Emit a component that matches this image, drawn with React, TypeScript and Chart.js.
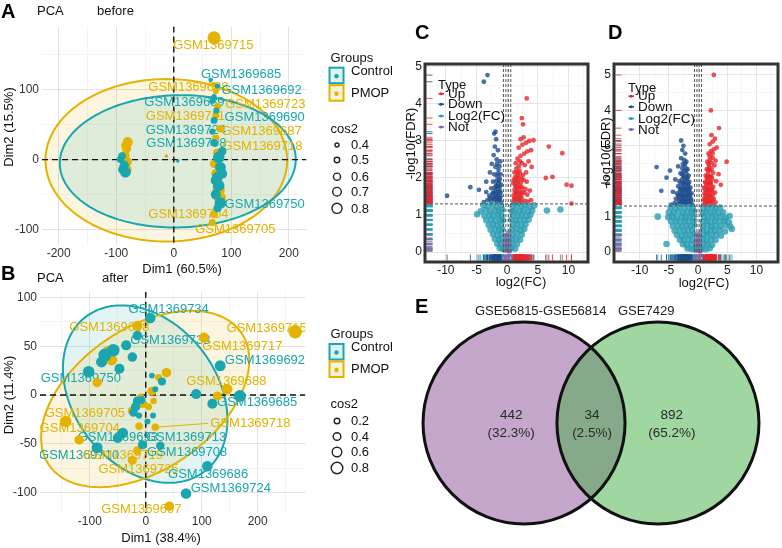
import React, { useEffect, useRef } from "react";
import { Chart, registerables } from "chart.js";

Chart.register(...registerables);

const FONT = "'Liberation Sans', Arial, Helvetica, sans-serif";
const TEAL = "#19A6AF";
const GOLD = "#E3B300";
const GROUP_COLORS = [TEAL, GOLD];
const groups = ["Control", "PMOP"];

const UP = "#E8262B";
const DOWN = "#1E4E8F";
const LOGFC = "#2B9DB3";
const NOT = "#8E5CAA";
const typeNames = ["Up", "Down", "Log2(FC)", "Not"];
const typeColors = [UP, DOWN, LOGFC, NOT];

// ---------------- Panel A : PCA before (x, y, cos2) ----------------
const aControl: number[][] = [
  [-90, 5, 0.55], [-88, -14, 0.7], [-93, 0, 0.5], [-86, -8, 0.65], [-84, -18, 0.75],
  [7, -2, 0.03],
  [64, 114, 0.35], [76, 105, 0.4], [70, 90, 0.4], [67, 84, 0.45], [74, 70, 0.45], [70, 56, 0.5],
  [67, 40, 0.45], [70, 24, 0.55], [84, 12, 0.6], [78, 3, 0.8], [81, -11, 0.75], [84, -20, 0.7],
  [76, -25, 0.75], [72, -30, 0.65], [78, -37, 0.8], [73, -50, 0.7], [81, -62, 0.8], [76, -69, 0.6],
];
const aPmop: number[][] = [
  [-84, 20, 0.6], [-80, 25, 0.7], [-82, 16, 0.65], [-85, 6, 0.65], [-81, -3, 0.65], [-83, -10, 0.6], [-80, -14, 0.55],
  [-13, 5, 0.05],
  [70, 174, 0.9],
  [70, 107, 0.4], [73, 98, 0.45], [76, 76, 0.5], [73, 63, 0.5], [81, 44, 0.55], [73, 31, 0.5], [75, 10, 0.55],
  [70, -6, 0.6], [73, -20, 0.65], [78, -43, 0.85], [80, -55, 0.85], [70, -78, 0.55], [67, -90, 0.5],
];
// [text, group, x, y]
const aLabels: [string, number, number, number][] = [
  ["GSM1369715", 1, 68.6, 162.5], ["GSM1369685", 0, 117, 121], ["GSM1369688", 1, 25.4, 103],
  ["GSM1369692", 0, 152.5, 98.6], ["GSM1369689", 0, 18.6, 82], ["GSM1369723", 1, 159, 79],
  ["GSM1369711", 1, 20.3, 61], ["GSM1369690", 0, 158, 60], ["GSM1369724", 0, 21, 41.7],
  ["GSM1369687", 1, 152.5, 40], ["GSM1369708", 0, 22, 23.6], ["GSM1369718", 1, 154, 19.4],
  ["GSM1369750", 0, 158, -64], ["GSM1369704", 1, 25.4, -78], ["GSM1369705", 1, 107, -100],
];
// group, cx, cy, sx, sy, correlation
const aEllipses: number[][] = [
  [1, -13, -1, 210, 116, 0],
  [0, 7, -2.5, 205, 94.5, 0.03],
];
const aXTicks = [-200, -150, -100, -50, 0, 50, 100, 150, 200];
const aXLabels = [-200, -100, 0, 100, 200];
const aYTicks = [-100, -50, 0, 50, 100, 150];
const aYLabels = [-100, 0, 100];
const aCos2Legend = [0.4, 0.5, 0.6, 0.7, 0.8];

// ---------------- Panel B : PCA after ----------------
const bControl: number[][] = [
  [8, 79, 0.55], [-15, 61, 0.45], [-35, 51, 0.5], [-58, 46, 0.75], [-73, 41, 0.8], [-79, 34, 0.6],
  [-24, 39, 0.45], [-47, 27, 0.5], [-102, 24, 0.65], [133, 30, 0.6], [90, 1, 0.5], [168, -1, 0.7],
  [119, -9, 0.5], [-15, -6, 0.4], [-18, -12, 0.45], [-12, -21, 0.12], [13, -21, 0.1], [3, -27, 0.1],
  [11, 20, 0.08], [29, 14, 0.3], [17, 6, 0.1], [-41, -39, 0.55], [-50, -44, 0.5], [-87, -54, 0.6],
  [-6, -51, 0.4], [26, -52, 0.35], [110, -73, 0.55], [72, -101, 0.55], [-8, -5, 0.3], [-22, -18, 0.35],
];
const bPmop: number[][] = [
  [-15, 71, 0.5], [104, 59, 0.5], [267, 65, 0.85], [-67, 44, 0.75], [-61, 36, 0.6], [-87, 13, 0.45],
  [37, 23, 0.45], [23, 18, 0.2], [11, 4, 0.4], [14, -6, 0.15], [-6, -9, 0.35], [-9, -2, 0.2],
  [145, 6, 0.6], [128, -1, 0.4], [-143, -27, 0.65], [-119, -46, 0.45], [-12, -32, 0.25], [17, -33, 0.25],
  [-15, -57, 0.35], [-24, -67, 0.4], [42, -114, 0.45], [-25, -16, 0.3], [5, -12, 0.2],
];
const bLabels: [string, number, number, number][] = [
  ["GSM1369734", 0, 41, 88], ["GSM1369698", 1, -65, 69], ["GSM1369715", 1, 216, 68],
  ["GSM1369738", 0, 44, 56], ["GSM1369717", 1, 172.5, 50], ["GSM1369692", 0, 213, 36],
  ["GSM1369750", 0, -116, 17], ["GSM1369688", 1, 144, 14], ["GSM1369685", 0, 199, -8],
  ["GSM1369705", 1, -109, -19], ["GSM1369718", 1, 187, -29], ["GSM1369704", 1, -118, -34],
  ["GSM1369693", 0, -50, -43], ["GSM1369713", 0, 72, -43], ["GSM1369710", 0, -119, -62],
  ["GSM1369719", 1, -41, -62], ["GSM1369708", 0, 74, -59], ["GSM1369725", 1, -13, -76],
  ["GSM1369686", 0, 111.5, -81], ["GSM1369724", 0, 152, -96], ["GSM1369697", 1, -8, -117],
];
// label index -> point it is tied to by a segment
const bSegments: [number, number, number][] = [[10, 17, -33]];
const bEllipses: number[][] = [
  [0, -1, 1, 147, 91, -0.29],
  [1, -1, -4, 186, 90.5, 0.44],
];
const bXTicks = [-150, -100, -50, 0, 50, 100, 150, 200, 250];
const bXLabels = [-100, 0, 100, 200];
const bYTicks = [-100, -75, -50, -25, 0, 25, 50, 75, 100];
const bYLabels = [-100, -50, 0, 50, 100];
const bCos2Legend = [0.2, 0.4, 0.6, 0.8];

const rA = (c: number) => Math.max(1.8, 7.75 * c - 0.4);
const rB = (c: number) => 2.5 + 5 * c;

// ---------------- Panel C : volcano GSE56815-GSE56814 ----------------
const cUp: number[][] = [
  [1.0, 1.35], [1.3, 1.42], [1.7, 1.36], [2.1, 1.4], [2.5, 1.34], [2.9, 1.38], [3.4, 1.36], [3.9, 1.4],
  [1.15, 1.44], [1.55, 1.46], [1.95, 1.44], [2.35, 1.46], [1.3, 1.31], [1.9, 1.32],
  [1.1, 1.52], [1.5, 1.56], [1.9, 1.5], [2.3, 1.54], [2.8, 1.6], [3.3, 1.55],
  [1.25, 1.6], [1.65, 1.62], [2.05, 1.58], [2.45, 1.62],
  [1.2, 1.68], [1.6, 1.72], [2.0, 1.66], [2.5, 1.74], [3.0, 1.7], [3.7, 1.66],
  [1.35, 1.78], [1.75, 1.78], [2.15, 1.76],
  [1.0, 1.86], [1.4, 1.84], [1.8, 1.9], [2.2, 1.86], [2.7, 1.94], [3.2, 1.9],
  [1.1, 1.95], [1.5, 1.94], [1.9, 2.0], [2.35, 1.98],
  [1.3, 2.02], [1.7, 2.06], [2.1, 2.12], [2.6, 2.08], [3.1, 2.15], [4.0, 2.3],
  [1.2, 2.15], [1.65, 2.14], [2.0, 2.2],
  [1.5, 2.25], [1.9, 2.32], [2.4, 2.4], [2.9, 2.35], [3.5, 2.45], [1.4, 2.4], [2.1, 2.45],
  [1.7, 2.52], [2.2, 2.6], [2.8, 2.66], [3.3, 2.72], [3.9, 2.75],
  [1.9, 2.82], [2.5, 2.9], [3.1, 2.95], [3.6, 3.0], [4.3, 3.02],
  [2.2, 3.05], [2.7, 3.1], [2.6, 3.45], [2.4, 3.62], [3.2, 4.15],
  [6.8, 2.85], [9.0, 2.67], [6.3, 2.0], [7.4, 2.03], [9.7, 1.82], [10.5, 1.79], [10.5, 1.31],
];
const cDown: number[][] = [
  [-1.0, 1.34], [-1.3, 1.4], [-1.7, 1.36], [-2.1, 1.42], [-2.6, 1.36], [-3.2, 1.4], [-3.8, 1.35],
  [-1.15, 1.44], [-1.55, 1.46], [-1.95, 1.44], [-2.35, 1.46], [-2.8, 1.45],
  [-1.1, 1.5], [-1.5, 1.55], [-1.9, 1.5], [-2.4, 1.57], [-2.9, 1.52],
  [-1.05, 1.6], [-1.4, 1.62], [-1.8, 1.58], [-2.25, 1.6], [-3.4, 1.62],
  [-1.2, 1.66], [-1.6, 1.7], [-2.0, 1.65], [-2.6, 1.72],
  [-1.2, 1.76], [-1.6, 1.78], [-2.0, 1.74],
  [-1.0, 1.82], [-1.4, 1.86], [-1.8, 1.8], [-2.3, 1.9],
  [-1.3, 1.92], [-1.75, 1.92],
  [-1.2, 1.98], [-1.6, 2.04], [-2.1, 2.1], [-2.8, 2.15],
  [-1.05, 2.1], [-1.5, 2.12],
  [-1.4, 2.22], [-1.9, 2.3], [-2.5, 2.38], [-1.25, 2.32], [-1.65, 2.38],
  [-1.1, 2.45], [-1.7, 2.5], [-2.2, 2.62],
  [-1.5, 2.75], [-2.0, 2.85], [-1.8, 3.05], [-2.1, 3.2], [-1.9, 3.25],
  [-3.2, 4.78], [-3.8, 4.6], [-9.8, 1.52], [-6.0, 1.75], [-4.6, 1.68], [-3.4, 1.9],
];
const cLog: number[][] = [
  [-3.9, 1.27], [-3.1, 1.24], [-2.4, 1.28], [-1.7, 1.22], [-1.0, 1.26], [0.9, 1.24], [1.6, 1.28], [2.3, 1.22], [3.0, 1.27], [3.7, 1.23], [4.4, 1.26],
  [-4.3, 1.1], [-3.5, 1.14], [-2.7, 1.1], [-2.0, 1.13], [-1.3, 1.1], [-0.8, 1.14], [0.8, 1.1], [1.3, 1.13], [2.0, 1.1], [2.7, 1.14], [3.4, 1.1], [4.1, 1.12],
  [-4.9, 1.02], [-3.7, 0.98], [-2.9, 1.0], [-2.2, 0.97], [-1.5, 1.01], [-0.9, 0.98], [1.0, 1.0], [1.7, 0.97], [2.4, 1.01], [3.1, 0.98], [3.8, 1.0],
  [-3.4, 0.86], [-2.6, 0.88], [-1.9, 0.85], [-1.2, 0.88], [-0.7, 0.86], [0.7, 0.88], [1.4, 0.85], [2.1, 0.88], [2.8, 0.86], [3.5, 0.87],
  [-3.0, 0.73], [-2.3, 0.75], [-1.6, 0.72], [-1.0, 0.75], [0.9, 0.73], [1.6, 0.76], [2.3, 0.72], [3.0, 0.75],
  [-2.7, 0.6], [-2.0, 0.62], [-1.3, 0.59], [-0.8, 0.62], [0.8, 0.6], [1.5, 0.63], [2.2, 0.59], [2.8, 0.62],
  [-2.3, 0.48], [-1.6, 0.46], [-1.0, 0.49], [0.9, 0.47], [1.6, 0.5], [2.4, 0.47],
  [-2.0, 0.35], [-1.3, 0.33], [-0.8, 0.36], [0.8, 0.34], [1.5, 0.36], [2.1, 0.33],
  [-1.6, 0.22], [-1.0, 0.2], [0.9, 0.23], [1.6, 0.21],
  [-1.2, 0.1], [-0.7, 0.08], [0.7, 0.1], [1.3, 0.09],
  [6.5, 1.12], [8.7, 1.15],
];
const cNot: number[][] = [
  [-0.4, 0.04], [-0.1, 0.06], [0.2, 0.03], [0.45, 0.08], [-0.25, 0.14], [0.1, 0.16], [0.35, 0.22],
  [-0.45, 0.24], [0.0, 0.28], [-0.2, 0.34], [0.3, 0.38], [-0.35, 0.45], [0.15, 0.5], [0.4, 0.02], [-0.5, 0.12],
];

// ---------------- Panel D : volcano GSE7429 ----------------
const dUp: number[][] = [
  [0.9, 1.34], [1.3, 1.38], [1.7, 1.35], [2.1, 1.4], [2.5, 1.36], [3.0, 1.4],
  [1.15, 1.44], [1.55, 1.46], [1.95, 1.44], [2.4, 1.46],
  [1.0, 1.5], [1.4, 1.54], [1.8, 1.48], [2.2, 1.55], [2.7, 1.5],
  [1.25, 1.6], [1.65, 1.6], [2.05, 1.58], [2.55, 1.62],
  [1.1, 1.66], [1.5, 1.7], [1.9, 1.64], [2.3, 1.72], [2.9, 1.68],
  [1.2, 1.76], [1.6, 1.77], [2.0, 1.74], [2.4, 1.76],
  [1.0, 1.82], [1.4, 1.86], [1.8, 1.8], [2.2, 1.88], [2.6, 1.84],
  [1.4, 1.94], [1.8, 1.92], [2.2, 1.96],
  [1.2, 1.98], [1.6, 2.04], [2.0, 1.98], [2.4, 2.06], [3.1, 2.0],
  [1.5, 2.1], [1.9, 2.1], [2.3, 2.12],
  [1.3, 2.16], [1.7, 2.2], [2.1, 2.14], [2.6, 2.24],
  [1.7, 2.3], [2.1, 2.3],
  [1.5, 2.34], [1.9, 2.4], [2.3, 2.36], [2.8, 2.45],
  [1.8, 2.48], [2.3, 2.52],
  [1.6, 2.55], [2.0, 2.6], [2.5, 2.66], [3.0, 2.58],
  [2.0, 2.7], [2.5, 2.78],
  [1.8, 2.78], [2.2, 2.85], [2.7, 2.9], [3.2, 2.95],
  [2.0, 3.05], [2.5, 3.12], [2.3, 3.3], [2.9, 3.2],
  [2.7, 5.0], [2.2, 4.0], [3.6, 3.5], [4.9, 2.55], [3.5, 2.2], [3.9, 1.9],
];
const dDown: number[][] = [
  [-1.0, 1.34], [-1.4, 1.38], [-1.8, 1.35], [-2.2, 1.4], [-2.6, 1.36], [-3.0, 1.4], [-3.5, 1.35], [-4.0, 1.38], [-4.6, 1.34],
  [-1.15, 1.44], [-1.6, 1.45], [-2.0, 1.42], [-2.4, 1.46], [-2.8, 1.43], [-3.25, 1.45],
  [-1.2, 1.5], [-1.6, 1.54], [-2.0, 1.48], [-2.4, 1.55], [-2.8, 1.5], [-3.3, 1.55], [-3.8, 1.5],
  [-1.35, 1.6], [-1.75, 1.6], [-2.15, 1.58], [-2.55, 1.6], [-2.95, 1.6], [-3.4, 1.6],
  [-1.1, 1.66], [-1.5, 1.7], [-1.9, 1.64], [-2.3, 1.72], [-2.7, 1.66], [-3.1, 1.7], [-3.6, 1.66], [-4.3, 1.7],
  [-1.5, 1.77], [-1.9, 1.74], [-2.3, 1.78], [-2.7, 1.76], [-3.1, 1.78],
  [-1.3, 1.82], [-1.7, 1.86], [-2.1, 1.8], [-2.5, 1.88], [-2.9, 1.82], [-3.4, 1.86],
  [-1.7, 1.92], [-2.1, 1.92], [-2.5, 1.96], [-2.9, 1.94],
  [-1.5, 1.98], [-1.9, 2.04], [-2.3, 1.98], [-2.7, 2.06], [-3.2, 2.0], [-3.9, 2.05],
  [-1.8, 2.1], [-2.2, 2.1], [-2.7, 2.2],
  [-1.6, 2.16], [-2.0, 2.2], [-2.5, 2.14], [-3.0, 2.22],
  [-2.0, 2.3], [-2.45, 2.28],
  [-1.8, 2.34], [-2.2, 2.4], [-2.7, 2.36], [-3.4, 2.42],
  [-2.2, 2.5], [-2.6, 2.48],
  [-2.0, 2.55], [-2.4, 2.6], [-2.9, 2.65], [-2.2, 2.78], [-2.7, 2.88], [-2.5, 3.0],
  [-2.9, 3.15], [-7.1, 2.4], [-6.3, 1.73], [-5.4, 2.1], [-4.8, 2.3],
];
const dLog: number[][] = [
  [-4.7, 1.26], [-3.9, 1.23], [-3.1, 1.27], [-2.3, 1.24], [-1.5, 1.27], [-0.9, 1.23], [0.9, 1.25], [1.6, 1.22], [2.3, 1.27], [3.0, 1.24], [3.8, 1.26],
  [-5.0, 1.12], [-4.2, 1.1], [-3.4, 1.14], [-2.6, 1.1], [-1.9, 1.13], [-1.2, 1.1], [-0.7, 1.14], [0.8, 1.1], [1.4, 1.13], [2.1, 1.1], [2.8, 1.14], [3.5, 1.1], [4.3, 1.12],
  [-6.9, 1.0], [-5.1, 0.98], [-4.4, 1.01], [-3.6, 0.97], [-2.8, 1.0], [-2.1, 0.98], [-1.4, 1.01], [-0.8, 0.97], [1.0, 1.0], [1.7, 0.97], [2.4, 1.01], [3.1, 0.98], [3.9, 1.0], [4.7, 0.97], [5.4, 1.02],
  [-4.6, 0.86], [-3.8, 0.88], [-3.0, 0.85], [-2.3, 0.88], [-1.6, 0.86], [-0.9, 0.88], [0.8, 0.86], [1.5, 0.88], [2.2, 0.85], [2.9, 0.88], [3.7, 0.86], [4.5, 0.88], [5.3, 0.84],
  [-4.3, 0.73], [-3.5, 0.75], [-2.7, 0.72], [-2.0, 0.75], [-1.3, 0.73], [-0.7, 0.76], [0.9, 0.73], [1.6, 0.76], [2.3, 0.72], [3.0, 0.75], [3.8, 0.73], [4.7, 0.76], [5.5, 0.72],
  [-4.0, 0.6], [-3.2, 0.62], [-2.4, 0.59], [-1.7, 0.62], [-1.0, 0.6], [0.8, 0.62], [1.5, 0.59], [2.2, 0.62], [2.9, 0.6], [3.7, 0.62], [4.6, 0.58], [5.8, 0.65],
  [-3.6, 0.48], [-2.8, 0.46], [-2.1, 0.49], [-1.4, 0.47], [-0.8, 0.5], [0.9, 0.47], [1.6, 0.5], [2.3, 0.47], [3.1, 0.49], [3.9, 0.46],
  [-3.1, 0.35], [-2.4, 0.33], [-1.7, 0.36], [-1.0, 0.34], [0.8, 0.36], [1.5, 0.33], [2.2, 0.36], [3.0, 0.34],
  [-5.4, 0.23], [-2.6, 0.22], [-1.9, 0.2], [-1.2, 0.23], [0.9, 0.21], [1.6, 0.23], [2.4, 0.2],
  [-1.8, 0.1], [-1.1, 0.08], [-0.6, 0.11], [0.7, 0.1], [1.3, 0.08], [2.0, 0.11],
];
const dNot: number[][] = [
  [-0.4, 0.04], [-0.1, 0.07], [0.25, 0.03], [0.45, 0.1], [-0.3, 0.15], [0.1, 0.18], [0.35, 0.24],
  [-0.45, 0.26], [0.0, 0.3], [-0.2, 0.37], [0.3, 0.42], [-0.35, 0.48], [0.15, 0.52], [0.4, 0.02], [-0.5, 0.12],
];
const volXTicks = [-12.5, -10, -7.5, -5, -2.5, 0, 2.5, 5, 7.5, 10, 12.5];
const volXLabels = [-10, -5, 0, 5, 10];
const volYTicks = [0, 0.5, 1, 1.5, 2, 2.5, 3, 3.5, 4, 4.5, 5];
const volYLabels = [0, 1, 2, 3, 4, 5];
const fdrCut = 1.3;
const fcCuts = [-0.6, -0.2, 0.2, 0.6];

// ---------------- Panel E : Venn ----------------
const vennSets = ["GSE56815-GSE56814", "GSE7429"];
const vennCounts = [442, 34, 892]; // only set 1, both, only set 2
const vennCenterX = [-0.663, 0.663];
const vennRadius = 1;
const vennLabelX = [-0.79, 0.01, 0.8];

// ---------------- helpers ----------------
function rgba(hex: string, a: number) {
  const n = parseInt(hex.slice(1), 16);
  return `rgba(${(n >> 16) & 255},${(n >> 8) & 255},${n & 255},${a})`;
}
const setTicks = (vals: number[]) => (s: any) => {
  s.ticks = vals.map((v) => ({ value: v }));
};
const fixBox = (size: number, horizontal: boolean) => (s: any) => {
  if (horizontal) s.height = size;
  else s.width = size;
  s.paddingLeft = 0; s.paddingRight = 0; s.paddingTop = 0; s.paddingBottom = 0;
};

function ellipsePath(ctx: CanvasRenderingContext2D, xs: any, ys: any, e: number[]) {
  const [, cx, cy, sx, sy, r] = e;
  const k = Math.sqrt(1 - r * r);
  ctx.beginPath();
  for (let i = 0; i <= 180; i++) {
    const t = (i / 180) * Math.PI * 2;
    const px = xs.getPixelForValue(cx + sx * Math.cos(t));
    const py = ys.getPixelForValue(cy + sy * (r * Math.cos(t) + k * Math.sin(t)));
    if (i === 0) ctx.moveTo(px, py);
    else ctx.lineTo(px, py);
  }
  ctx.closePath();
}

function pcaChart(canvas: HTMLCanvasElement, p: any) {
  const deco = {
    id: "pcaDeco",
    beforeDatasetsDraw(chart: any) {
      const { ctx, chartArea: ca } = chart;
      const xs = chart.scales.x, ys = chart.scales.y;
      ctx.save();
      ctx.beginPath();
      ctx.rect(ca.left, ca.top, ca.right - ca.left, ca.bottom - ca.top);
      ctx.clip();
      for (const e of p.ellipses) {
        ellipsePath(ctx, xs, ys, e);
        ctx.fillStyle = rgba(GROUP_COLORS[e[0]], 0.12);
        ctx.fill();
      }
      for (const e of p.ellipses) {
        ellipsePath(ctx, xs, ys, e);
        ctx.strokeStyle = GROUP_COLORS[e[0]];
        ctx.lineWidth = 2;
        ctx.stroke();
      }
      const x0 = xs.getPixelForValue(0), y0 = ys.getPixelForValue(0);
      ctx.setLineDash([6, 4]);
      ctx.strokeStyle = "#111";
      ctx.lineWidth = 1.4;
      ctx.beginPath();
      ctx.moveTo(ca.left, y0); ctx.lineTo(ca.right, y0);
      ctx.moveTo(x0, ca.top); ctx.lineTo(x0, ca.bottom);
      ctx.stroke();
      ctx.setLineDash([]);
      ctx.font = `13px ${FONT}`;
      ctx.textAlign = "center";
      ctx.textBaseline = "middle";
      p.labels.forEach((l: any, i: number) => {
        const [text, g, lx, ly] = l;
        const px = xs.getPixelForValue(lx), py = ys.getPixelForValue(ly);
        ctx.fillStyle = GROUP_COLORS[g];
        ctx.fillText(text, px, py);
        for (const s of p.segments || []) {
          if (s[0] === i) {
            const w = ctx.measureText(text).width;
            ctx.strokeStyle = GROUP_COLORS[g];
            ctx.lineWidth = 1;
            ctx.beginPath();
            ctx.moveTo(xs.getPixelForValue(s[1]), ys.getPixelForValue(s[2]));
            ctx.lineTo(px - w / 2 - 2, py);
            ctx.stroke();
          }
        }
      });
      ctx.restore();
    },
  };
  const mkDs = (pts: number[][], g: number) => ({
    label: groups[g],
    data: pts.map((q) => ({ x: q[0], y: q[1] })),
    pointRadius: pts.map((q) => p.rFn(q[2])),
    pointBackgroundColor: GROUP_COLORS[g],
    pointBorderWidth: 0,
    showLine: false,
  });
  const gridOpt = (majors: number[]) => ({
    drawTicks: false,
    color: (c: any) => (majors.includes(c.tick?.value) ? "#E3E3E3" : "#F0F0F0"),
    lineWidth: (c: any) => (majors.includes(c.tick?.value) ? 1 : 0.7),
  });
  return new Chart(canvas, {
    type: "scatter",
    data: { datasets: [mkDs(p.ctrl, 0), mkDs(p.pmop, 1)] as any },
    options: {
      responsive: false,
      animation: false,
      events: [],
      layout: { padding: 0 },
      plugins: { legend: { display: false }, tooltip: { enabled: false } },
      scales: {
        x: {
          type: "linear", min: p.xMin, max: p.xMax,
          afterBuildTicks: setTicks(p.xTicks),
          afterFit: fixBox(p.xAxisH, true),
          border: { display: false },
          grid: gridOpt(p.xLabels) as any,
          ticks: {
            autoSkip: false, maxRotation: 0, padding: p.xPad, color: "#333",
            font: { family: FONT, size: 12 },
            callback: (v: any) => (p.xLabels.includes(v) ? String(v) : ""),
          },
        },
        y: {
          type: "linear", min: p.yMin, max: p.yMax,
          afterBuildTicks: setTicks(p.yTicks),
          afterFit: fixBox(p.yAxisW, false),
          border: { display: false },
          grid: gridOpt(p.yLabels) as any,
          ticks: {
            autoSkip: false, padding: 3, color: "#333",
            font: { family: FONT, size: 12 },
            callback: (v: any) => (p.yLabels.includes(v) ? String(v) : ""),
          },
        },
      },
    },
    plugins: [deco as any],
  });
}

function volcanoChart(canvas: HTMLCanvasElement, p: any) {
  const deco = {
    id: "volDeco",
    afterDatasetsDraw(chart: any) {
      const { ctx, chartArea: ca } = chart;
      const xs = chart.scales.x, ys = chart.scales.y;
      ctx.save();
      ctx.beginPath();
      ctx.rect(ca.left, ca.top, ca.right - ca.left, ca.bottom - ca.top);
      ctx.clip();
      ctx.setLineDash([3, 2]);
      ctx.strokeStyle = "#555";
      ctx.lineWidth = 1;
      ctx.beginPath();
      const yc = ys.getPixelForValue(fdrCut);
      ctx.moveTo(ca.left, yc); ctx.lineTo(ca.right, yc);
      for (const f of fcCuts) {
        const xc = xs.getPixelForValue(f);
        ctx.moveTo(xc, ca.top); ctx.lineTo(xc, ca.bottom);
      }
      ctx.stroke();
      ctx.setLineDash([]);
      // rugs
      chart.data.datasets.forEach((ds: any) => {
        ctx.strokeStyle = ds.pointBackgroundColor;
        ctx.lineWidth = 1;
        ctx.beginPath();
        for (const pt of ds.data) {
          const py = ys.getPixelForValue(pt.y);
          ctx.moveTo(ca.left + 1.5, py); ctx.lineTo(ca.left + 7.5, py);
          const px = xs.getPixelForValue(pt.x);
          ctx.moveTo(px, ca.bottom - 1.5); ctx.lineTo(px, ca.bottom - 7.5);
        }
        ctx.stroke();
      });
      ctx.restore();
      ctx.save();
      ctx.strokeStyle = "#333";
      ctx.lineWidth = 3;
      ctx.strokeRect(ca.left, ca.top, ca.right - ca.left, ca.bottom - ca.top);
      ctx.restore();
    },
  };
  const mkDs = (pts: number[][], t: number, r: number) => ({
    label: typeNames[t],
    data: pts.map((q) => ({ x: q[0], y: q[1] })),
    pointRadius: r,
    pointBackgroundColor: rgba(typeColors[t], 0.8),
    pointBorderWidth: 0,
    showLine: false,
  });
  const gridOpt = (majors: number[]) => ({
    drawTicks: false,
    color: (c: any) => (majors.includes(c.tick?.value) ? "#E6E6E6" : "#F2F2F2"),
    lineWidth: (c: any) => (majors.includes(c.tick?.value) ? 1 : 0.7),
  });
  return new Chart(canvas, {
    type: "scatter",
    data: {
      datasets: [mkDs(p.log, 2, 3.3), mkDs(p.down, 1, 2.4), mkDs(p.up, 0, 2.4), mkDs(p.not, 3, 2.5)] as any,
    },
    options: {
      responsive: false,
      animation: false,
      events: [],
      layout: { padding: { top: 2, right: 2, left: 0, bottom: 0 } },
      plugins: { legend: { display: false }, tooltip: { enabled: false } },
      scales: {
        x: {
          type: "linear", min: p.xMin, max: p.xMax,
          afterBuildTicks: setTicks(volXTicks),
          afterFit: fixBox(16, true),
          border: { display: false },
          grid: gridOpt(volXLabels) as any,
          ticks: {
            autoSkip: false, maxRotation: 0, padding: 1, color: "#1a1a1a",
            font: { family: FONT, size: 12 },
            callback: (v: any) => (volXLabels.includes(v) ? String(v) : ""),
          },
        },
        y: {
          type: "linear", min: p.yMin, max: p.yMax,
          afterBuildTicks: setTicks(volYTicks),
          afterFit: fixBox(25, false),
          border: { display: false },
          grid: gridOpt(volYLabels) as any,
          ticks: {
            autoSkip: false, padding: 3, color: "#1a1a1a",
            font: { family: FONT, size: 12 },
            callback: (v: any) => (volYLabels.includes(v) ? String(v) : ""),
          },
        },
      },
    },
    plugins: [deco as any],
  });
}

function vennChart(canvas: HTMLCanvasElement) {
  const total = vennCounts.reduce((a, b) => a + b, 0);
  const deco = {
    id: "venn",
    afterDraw(chart: any) {
      const { ctx } = chart;
      const xs = chart.scales.x, ys = chart.scales.y;
      const ppu = xs.getPixelForValue(1) - xs.getPixelForValue(0);
      const R = vennRadius * ppu;
      const cy = ys.getPixelForValue(0);
      const c1 = xs.getPixelForValue(vennCenterX[0]);
      const c2 = xs.getPixelForValue(vennCenterX[1]);
      const circle = (cx: number) => { ctx.beginPath(); ctx.arc(cx, cy, R, 0, Math.PI * 2); };
      ctx.save();
      circle(c1); ctx.fillStyle = "#C4A7CB"; ctx.fill();
      circle(c2); ctx.fillStyle = "#A0D7A1"; ctx.fill();
      ctx.save();
      circle(c1); ctx.clip();
      circle(c2); ctx.fillStyle = "#86AA89"; ctx.fill();
      ctx.restore();
      ctx.lineWidth = 3;
      ctx.strokeStyle = "#111";
      circle(c1); ctx.stroke();
      circle(c2); ctx.stroke();
      ctx.fillStyle = "#2a2a2a";
      ctx.font = `13.5px ${FONT}`;
      ctx.textAlign = "center";
      ctx.textBaseline = "middle";
      vennCounts.forEach((n, i) => {
        const px = xs.getPixelForValue(vennLabelX[i]);
        ctx.fillText(String(n), px, cy - 8);
        ctx.fillText(`(${((n / total) * 100).toFixed(1)}%)`, px, cy + 10);
      });
      ctx.restore();
    },
  };
  return new Chart(canvas, {
    type: "scatter",
    data: { datasets: [] },
    options: {
      responsive: false,
      animation: false,
      events: [],
      layout: { padding: 0 },
      plugins: { legend: { display: false }, tooltip: { enabled: false } },
      scales: {
        x: { type: "linear", min: -1.891, max: 1.891, display: false },
        y: { type: "linear", min: -1.238, max: 1.317, display: false },
      },
    },
    plugins: [deco as any],
  });
}

const T = (props: any) => (
  <text fontFamily={FONT} fontSize={13} fill="#111" {...props}>
    {props.children}
  </text>
);

function GroupLegend({ top, cos2, rFn, circleY }: any) {
  return (
    <g>
      <T x={330.5} y={top}>Groups</T>
      {groups.map((g, i) => (
        <g key={g}>
          <rect x={329.5} y={top + 6 + i * 17.5} width={14} height={15.5} fill={rgba(GROUP_COLORS[i], 0.15)}
            stroke={GROUP_COLORS[i]} strokeWidth={2} />
          <circle cx={336.5} cy={top + 14.5 + i * 17.5} r={2.2} fill={GROUP_COLORS[i]} />
          <T x={351} y={top + (i === 0 ? 13 : 35.3)}>{g}</T>
        </g>
      ))}
      <T x={330.5} y={circleY[0] - 11.7}>cos2</T>
      {cos2.map((c: number, i: number) => (
        <g key={c}>
          <circle cx={337} cy={circleY[i + 1]} r={Math.max(1.5, rFn(c) - 0.7)} fill="none" stroke="#222" strokeWidth={1.4} />
          <T x={351} y={circleY[i + 1] + 4.4}>{c.toFixed(1)}</T>
        </g>
      ))}
    </g>
  );
}

function TypeLegend({ x, y }: any) {
  const base = [8.4, 19, 30.7, 41.7];
  return (
    <g>
      <T x={x} y={y}>Type</T>
      {typeNames.map((n, i) => (
        <g key={n}>
          <line x1={x + 0.5} x2={x + 6} y1={y + base[i] - 4} y2={y + base[i] - 4} stroke={typeColors[i]} strokeWidth={1.6} />
          <circle cx={x + 3} cy={y + base[i] - 4} r={1.5} fill={typeColors[i]} />
          <T x={x + 10} y={y + base[i]} fontSize={13.5}>{n}</T>
        </g>
      ))}
    </g>
  );
}

export default function App() {
  const aRef = useRef<HTMLCanvasElement>(null);
  const bRef = useRef<HTMLCanvasElement>(null);
  const cRef = useRef<HTMLCanvasElement>(null);
  const dRef = useRef<HTMLCanvasElement>(null);
  const eRef = useRef<HTMLCanvasElement>(null);

  useEffect(() => {
    const charts: Chart[] = [];
    charts.push(pcaChart(aRef.current!, {
      ctrl: aControl, pmop: aPmop, labels: aLabels, ellipses: aEllipses, segments: [],
      xMin: -229, xMax: 230.5, yMin: -122, yMax: 190,
      xTicks: aXTicks, xLabels: aXLabels, yTicks: aYTicks, yLabels: aYLabels,
      rFn: rA, yAxisW: 42, xAxisH: 16, xPad: 1,
    }));
    charts.push(pcaChart(bRef.current!, {
      ctrl: bControl, pmop: bPmop, labels: bLabels, ellipses: bEllipses, segments: bSegments,
      xMin: -189, xMax: 285, yMin: -121, yMax: 106,
      xTicks: bXTicks, xLabels: bXLabels, yTicks: bYTicks, yLabels: bYLabels,
      rFn: rB, yAxisW: 40, xAxisH: 16, xPad: 1,
    }));
    charts.push(volcanoChart(cRef.current!, {
      up: cUp, down: cDown, log: cLog, not: cNot, xMin: -13.4, xMax: 13.2, yMin: -0.27, yMax: 5.08,
    }));
    charts.push(volcanoChart(dRef.current!, {
      up: dUp, down: dDown, log: dLog, not: dNot, xMin: -14.4, xMax: 13.7, yMin: -0.28, yMax: 5.31,
    }));
    charts.push(vennChart(eRef.current!));
    return () => charts.forEach((c) => c.destroy());
  }, []);

  const cv = (left: number, top: number): React.CSSProperties => ({ position: "absolute", left, top });

  return (
    <div style={{ position: "absolute", left: 0, top: 0, width: 782, height: 548, background: "#fff", overflow: "hidden" }}>
      <canvas ref={aRef} width={313} height={241} style={cv(0, 20)} />
      <canvas ref={bRef} width={312} height={244} style={cv(0, 285)} />
      <canvas ref={cRef} width={192} height={218} style={cv(400, 60)} />
      <canvas ref={dRef} width={193} height={218} style={cv(589, 60)} />
      <canvas ref={eRef} width={382} height={258} style={cv(400, 290)} />
      <svg width={782} height={548} style={{ position: "absolute", left: 0, top: 0, pointerEvents: "none" }}>
        <T x={1} y={18} fontSize={20} fontWeight="bold" fill="#000">A</T>
        <T x={37} y={15}>PCA</T>
        <T x={97} y={15}>before</T>
        <T x={1} y={280} fontSize={20} fontWeight="bold" fill="#000">B</T>
        <T x={37} y={282}>PCA</T>
        <T x={102} y={282}>after</T>
        <T x={415} y={39} fontSize={20} fontWeight="bold" fill="#000">C</T>
        <T x={608} y={39} fontSize={20} fontWeight="bold" fill="#000">D</T>
        <T x={415} y={313} fontSize={20} fontWeight="bold" fill="#000">E</T>

        <T x={182} y={272.5} textAnchor="middle">Dim1 (60.5%)</T>
        <T x={161} y={541.5} textAnchor="middle">Dim1 (38.4%)</T>
        <T transform="translate(12.7,127) rotate(-90)" textAnchor="middle">Dim2 (15.5%)</T>
        <T transform="translate(12.7,395) rotate(-90)" textAnchor="middle">Dim2 (11.4%)</T>
        <T transform="translate(414.7,143.5) rotate(-90)" textAnchor="middle">-log10(FDR)</T>
        <T transform="translate(609.7,153) rotate(-90)" textAnchor="middle">-log10(FDR)</T>
        <T x={521} y={286} textAnchor="middle">log2(FC)</T>
        <T x={704} y={287} textAnchor="middle">log2(FC)</T>

        <GroupLegend top={61.7} cos2={aCos2Legend} rFn={rA} circleY={[145, 145, 160, 176.7, 191.7, 208.3]} />
        <GroupLegend top={338} cos2={bCos2Legend} rFn={rB} circleY={[420, 421, 436.5, 452, 468]} />

        <TypeLegend x={438} y={89.3} />
        <TypeLegend x={628} y={91.8} />

        <T x={475} y={314.5} fill="#222">{vennSets[0]}</T>
        <T x={618} y={314.5} fill="#222">{vennSets[1]}</T>
      </svg>
    </div>
  );
}
